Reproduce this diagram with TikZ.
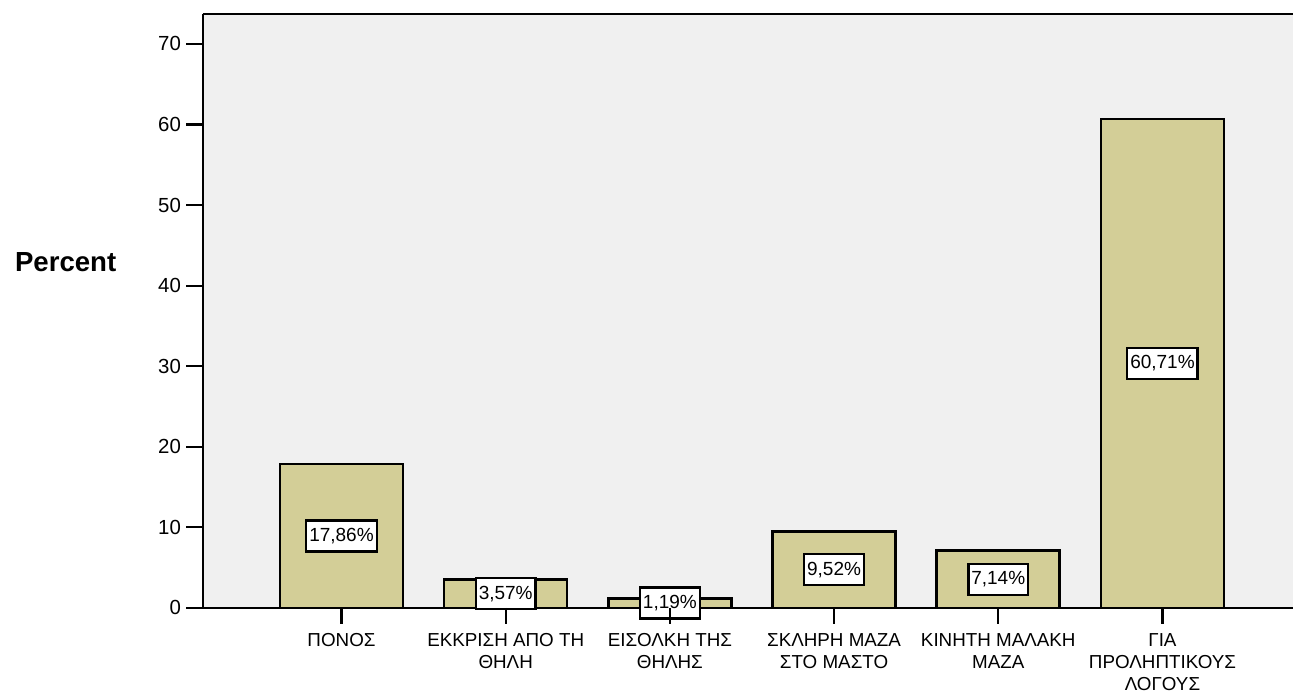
\documentclass[tikz,border=0pt]{standalone}
\usepackage{fontspec}
\setmainfont{Liberation Sans}
\usetikzlibrary{positioning}
\definecolor{plotbg}{HTML}{F0F0F0}
\definecolor{barfill}{HTML}{D3CE97}

\begin{document}
\begin{tikzpicture}[x=82.1pt,y=4.0286pt,
    bar/.style={draw=black, line width=1.3pt, fill=barfill},
    valbox/.style={draw=black, fill=white, line width=1.2pt, inner xsep=1.5pt,
                   minimum height=15.5pt, font=\fontsize{9.5}{11}\selectfont},
    catlabel/.style={align=center, anchor=north, inner sep=0pt,
                     font=\fontsize{9.4}{11}\selectfont},
    ticklabel/.style={anchor=east, inner sep=2pt, font=\fontsize{10.2}{12}\selectfont},
    tickline/.style={line width=1.1pt}]
    \useasboundingbox (-1.0798,-10.43) rectangle (6.795,75.46);

    % plot area
    \fill[plotbg] (0.1565,0) rectangle (6.795,73.73);
    \draw[line width=0.6pt] (0.1565,73.73) -- (6.795,73.73);
    \draw[line width=0.6pt] (0.1565,0) -- (0.1565,73.73);
    \draw[line width=0.6pt] (0.1565,0) -- (6.795,0);

    % y axis
    \foreach \y in {0,10,...,70}{
      \coordinate (a\y) at (0.1565,\y);
      \draw[tickline] (a\y) -- ++(-0.1035,0) node[ticklabel] (y\y) {\y};
    }
    \node[font=\bfseries\fontsize{13.8}{15}\selectfont] (ylab) at (-0.68,42.94) {Percent};

    % bars
    \foreach \i/\v/\p/\txt in {
        1/17.86/{17,86\%}/{ΠΟΝΟΣ},
        2/3.57/{3,57\%}/{ΕΚΚΡΙΣΗ ΑΠΟ ΤΗ\\ΘΗΛΗ},
        3/1.19/{1,19\%}/{ΕΙΣΟΛΚΗ ΤΗΣ\\ΘΗΛΗΣ},
        4/9.52/{9,52\%}/{ΣΚΛΗΡΗ ΜΑΖΑ\\ΣΤΟ ΜΑΣΤΟ},
        5/7.14/{7,14\%}/{ΚΙΝΗΤΗ ΜΑΛΑΚΗ\\ΜΑΖΑ},
        6/60.71/{60,71\%}/{ΓΙΑ\\ΠΡΟΛΗΠΤΙΚΟΥΣ\\ΛΟΓΟΥΣ}}{
      \draw[bar] (\i-0.3745,0) rectangle (\i+0.3745,\v);
      \node[valbox] (v\i) at (\i,\v/2) {\p};
      \coordinate (b\i) at (\i,0);
      \draw[tickline] (b\i) -- ++(0,-1.99);
      \node[catlabel] (c\i) at (\i,-3.1) {\txt};
    }
  \end{tikzpicture}
\end{document}
